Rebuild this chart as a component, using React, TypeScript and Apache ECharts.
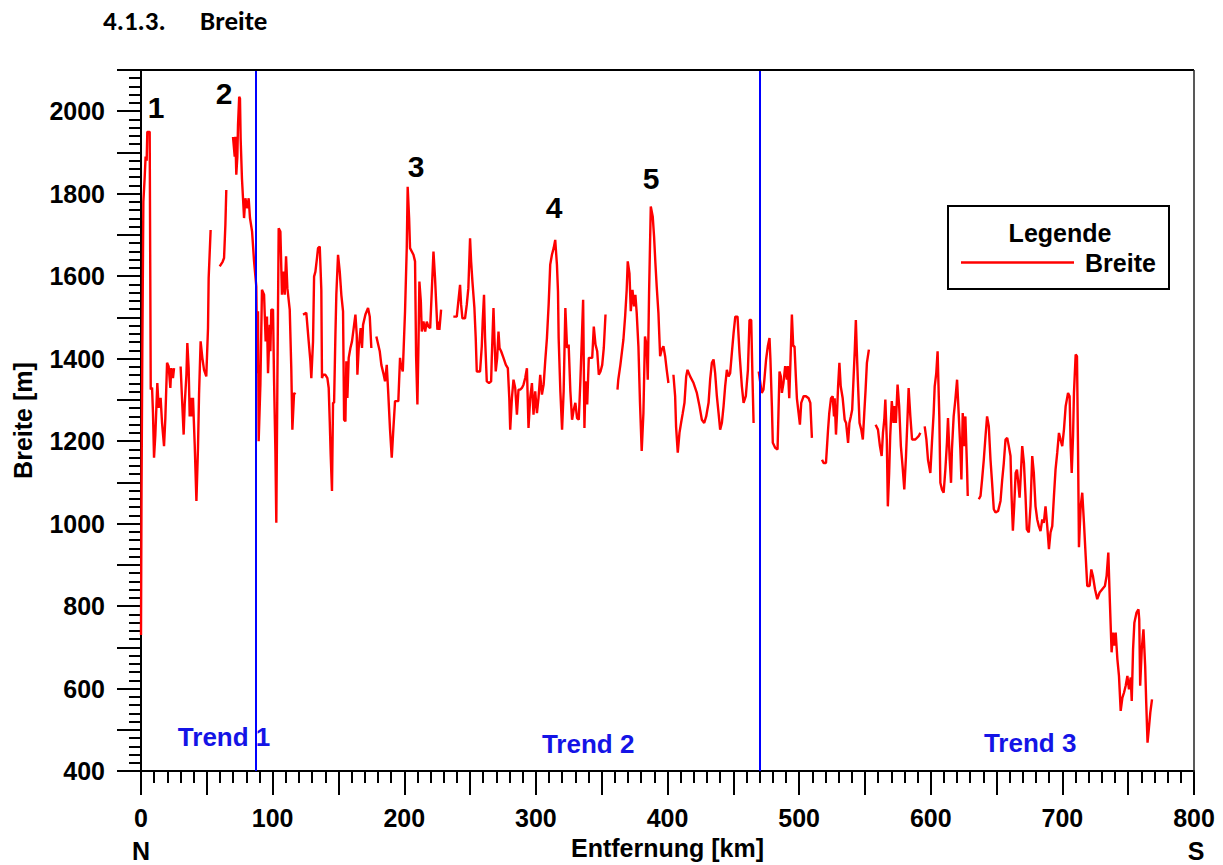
import { useEffect, useRef } from "react";
import * as echarts from "echarts";

// Profile of the valley width (Breite) along the river, north (0 km) to south.
// Each inner list is one continuous stretch of measurements; stretches are
// separated by gaps in the record.
const distanceKm: number[][] = [
  [0, 0.4, 1.0, 1.8, 2.8, 3.5, 4.3, 4.8, 6.0, 6.6,
   7.0, 7.4, 8.4, 9.1, 9.9, 10.9, 12.4, 13.4, 14.9, 16.0,
   17.5, 18.5, 19.8, 21.0, 22.3, 23.0, 24.3, 25.1],
  [30.1, 31.2, 32.4, 33.2, 34.5, 35.2, 36.2, 37.0, 37.7, 38.8,
   39.5, 40.8, 42.1, 43.3, 44.1, 45.3, 46.6, 47.9, 49.6, 50.9,
   51.4, 52.9],
  [59.8, 62.0, 63.1, 64.1, 64.8],
  [69.9, 71.2, 71.7, 72.4, 73.2, 73.7, 74.6, 75.2, 75.7, 76.7,
   78.3, 79.3, 80.8, 81.8, 82.8, 84.4, 85.9, 87.6, 88.4, 88.9,
   89.4, 90.7, 91.9, 93.5, 94.7, 95.7, 96.5, 97.8, 98.3, 99.0,
   100.3, 101.1, 102.1, 102.8, 103.6, 104.6, 105.9, 107.1, 108.4, 109.2,
   110.2, 111.2, 113.0, 114.2, 115.0, 116.3, 117.3],
  [123.1, 125.6, 127.4, 128.7, 129.4, 130.7, 131.5, 132.5, 133.7, 134.5,
   135.8, 137.0, 137.5, 138.3, 140.1, 141.6, 142.6, 143.4, 144.1, 145.1,
   145.9, 146.7, 147.7, 148.4, 149.7, 151.0, 152.2, 153.5, 154.3, 155.3,
   156.0, 156.8, 157.8, 159.1, 160.3, 161.9, 162.9, 163.9, 164.4, 165.4,
   166.9, 167.9, 168.7, 170.5, 172.5, 173.8, 175.0],
  [178.8, 180.5, 181.4, 182.6, 184.1, 185.4, 186.7, 187.9, 189.2, 190.5,
   191.7, 193.0, 195.5, 196.8, 197.4, 198.9, 200.6, 201.9, 202.6, 203.7,
   204.4, 207.0, 208.2, 209.0, 210.0, 210.8, 211.5, 212.6, 213.3, 214.6,
   215.9, 217.1, 218.4, 219.7, 220.9, 222.2, 223.4, 224.2, 225.2, 226.0,
   226.7, 228.0],
  [237.3, 239.9, 241.1, 242.4, 243.2, 244.2, 246.2, 247.5, 248.7, 250.0,
   250.8, 251.8, 253.3, 254.3, 255.1, 257.6, 258.9, 259.6, 260.6, 261.4,
   262.7, 264.4, 266.0, 266.5, 267.8, 268.5, 269.5, 270.6, 271.6, 272.4,
   273.6, 275.4, 277.2, 278.7, 279.8, 280.5, 281.8, 283.0, 284.3, 285.6,
   286.8, 288.1, 289.4, 290.6, 291.9, 293.2, 294.4, 295.7, 297.0, 298.2,
   299.5, 300.8, 302.0, 303.3, 304.6, 305.9, 307.1, 308.4, 309.7, 310.9,
   312.2, 313.5, 314.7, 316.0, 316.8, 317.3, 318.6, 319.9, 321.1, 322.4,
   323.7, 324.9, 326.2, 327.5, 328.8, 330.0, 331.3, 332.6, 333.8, 335.1,
   335.9, 336.9, 337.7, 339.0, 340.2, 341.5, 342.8, 344.0, 345.3, 346.6,
   347.8, 349.1, 350.4, 351.6, 352.9],
  [362.0, 362.6, 364.2, 366.5, 367.8, 369.0, 369.8, 371.1, 372.1, 373.4,
   374.6, 375.6, 376.6, 377.9, 379.1, 380.4, 381.7, 382.9, 384.2, 385.0,
   386.0, 387.3, 388.8, 389.8, 390.8, 391.8, 393.1, 394.4, 395.6, 396.9,
   398.2, 399.4, 400.7],
  [404.5, 405.8, 406.5, 407.8, 409.1, 410.3, 411.6, 412.9, 414.2, 415.2,
   417.2, 419.8, 422.3, 424.3, 426.1, 427.9, 429.4, 431.2, 432.4, 433.7,
   435.0, 436.2, 437.5, 438.8, 440.0, 441.3, 442.6, 443.8, 445.1, 446.4,
   447.6, 448.9, 450.2, 451.5, 453.2, 454.7, 456.5, 457.8, 459.5, 461.1,
   462.3, 463.6, 464.6, 465.4],
  [469.3, 471.6, 472.9, 473.6, 474.9, 476.2, 477.5, 478.2, 479.3, 480.0,
   481.8, 483.6, 484.3, 485.1, 486.1, 486.9, 488.1, 489.4, 490.7, 491.4,
   492.5, 493.5, 494.5, 495.5, 496.5, 497.5, 498.3, 499.6, 500.6, 501.6,
   503.4, 505.2, 507.2, 508.5, 509.7],
  [517.4, 518.6, 520.4, 521.2, 521.9, 522.9, 524.2, 525.5, 526.5, 527.0,
   528.0, 528.8, 529.6, 530.6, 531.6, 533.1, 534.6, 535.7, 537.2, 538.2,
   539.3, 540.3, 541.3, 542.3, 543.1, 543.8, 544.6, 545.9, 547.2, 548.4,
   549.5, 550.5, 551.5, 553.0],
  [558.1, 559.9, 561.4, 562.7, 563.7, 564.7, 565.5, 566.6, 567.4, 568.4,
   569.2, 570.4, 571.7, 572.5, 573.5, 574.8, 576.0, 577.3, 578.6, 579.9,
   581.2, 582.2, 583.2, 584.5, 585.8, 588.3, 590.8, 592.1],
  [595.4, 596.7, 597.9, 599.7, 600.9, 602.2, 603.0, 604.2, 605.2, 606.5,
   607.3, 608.5, 609.8, 611.1, 612.3, 613.1, 614.4, 615.4, 616.1, 617.4,
   618.7, 620.0, 621.2, 622.5, 623.3, 624.3, 625.3, 626.3, 627.6, 628.1],
  [636.5, 637.8, 639.0, 640.3, 641.6, 642.8, 644.1, 645.4, 646.6, 647.9,
   649.2, 651.2, 653.0, 654.3, 655.5, 656.8, 658.1, 659.3, 660.6, 661.4,
   662.4, 663.4, 664.5, 665.5, 666.5, 667.5, 668.5, 669.5, 670.8, 672.0,
   673.0, 674.5, 675.8, 677.1, 678.3, 679.6, 680.9, 682.1, 683.4, 684.7,
   685.9, 687.2, 688.5, 689.8, 691.0, 692.3, 693.6, 694.8, 696.1, 697.4,
   698.6, 699.9, 701.2, 702.5, 704.3, 705.5, 706.3, 707.1, 708.1, 708.8,
   710.1, 711.1, 711.9, 712.6, 713.9, 715.1, 716.4, 717.7, 718.9, 720.7,
   722.0, 723.2, 724.8, 726.5, 728.3, 730.3, 732.3, 733.6, 734.9, 736.1,
   737.4, 738.5, 739.5, 740.5, 741.8, 743.0, 744.3, 745.6, 746.8, 748.1,
   749.4, 750.6, 751.9, 752.7, 753.7, 754.7, 756.3, 757.8, 758.4, 759.1,
   760.3, 761.6, 762.9, 763.7, 764.7, 765.8, 766.8, 768.1],
];

const breiteM: number[][] = [
  [730, 1080, 1420, 1780, 1840, 1890, 1880, 1950, 1950, 1950,
   1640, 1325, 1330, 1268, 1160, 1216, 1341, 1281, 1305, 1244,
   1188, 1256, 1390, 1381, 1329, 1377, 1353, 1377],
  [1381, 1301, 1216, 1289, 1361, 1438, 1377, 1260, 1305, 1260,
   1305, 1192, 1055, 1184, 1313, 1442, 1402, 1373, 1357, 1474,
   1595, 1712],
  [1624, 1635, 1644, 1724, 1809],
  [1938, 1890, 1938, 1846, 1890, 1967, 2035, 2031, 1934, 1837,
   1741, 1789, 1765, 1789, 1741, 1708, 1636, 1575, 1365, 1515,
   1200, 1337, 1567, 1555, 1442, 1502, 1365, 1482, 1418, 1519,
   1519, 1345, 1176, 1002, 1337, 1716, 1708, 1555, 1611, 1555,
   1648, 1571, 1519, 1373, 1228, 1317, 1313],
  [1507, 1511, 1442, 1394, 1353, 1442, 1599, 1611, 1644, 1668,
   1672, 1567, 1353, 1361, 1361, 1353, 1329, 1248, 1168, 1079,
   1293, 1293, 1458, 1555, 1652, 1611, 1555, 1515, 1252, 1248,
   1394, 1305, 1402, 1426, 1442, 1482, 1507, 1458, 1361, 1426,
   1474, 1426, 1482, 1507, 1523, 1502, 1426],
  [1454, 1430, 1418, 1385, 1365, 1345, 1385, 1313, 1228, 1160,
   1228, 1297, 1297, 1402, 1385, 1369, 1515, 1668, 1817, 1741,
   1668, 1652, 1636, 1406, 1289, 1434, 1587, 1539, 1466, 1490,
   1466, 1490, 1478, 1474, 1563, 1660, 1595, 1539, 1470, 1490,
   1470, 1519],
  [1502, 1502, 1539, 1579, 1531, 1498, 1498, 1531, 1571, 1692,
   1636, 1587, 1523, 1450, 1369, 1369, 1430, 1490, 1555, 1450,
   1345, 1341, 1345, 1402, 1523, 1450, 1369, 1402, 1466, 1426,
   1418, 1402, 1385, 1377, 1305, 1228, 1305, 1349, 1329, 1264,
   1325, 1325, 1329, 1337, 1353, 1377, 1232, 1305, 1341, 1264,
   1321, 1268, 1305, 1361, 1313, 1337, 1394, 1450, 1531, 1628,
   1652, 1668, 1688, 1628, 1563, 1450, 1321, 1228, 1321, 1523,
   1426, 1434, 1321, 1252, 1277, 1293, 1256, 1252, 1345, 1466,
   1543, 1232, 1345, 1289, 1402, 1402, 1402, 1478, 1434, 1418,
   1361, 1369, 1385, 1426, 1507],
  [1325, 1349, 1385, 1446, 1502, 1567, 1636, 1607, 1515, 1567,
   1527, 1555, 1511, 1430, 1293, 1176, 1268, 1454, 1430, 1349,
   1559, 1769, 1744, 1696, 1632, 1575, 1511, 1406, 1422, 1430,
   1406, 1373, 1341],
  [1361, 1309, 1236, 1172, 1220, 1244, 1268, 1293, 1357, 1373,
   1357, 1341, 1317, 1285, 1252, 1244, 1260, 1293, 1349, 1390,
   1398, 1365, 1309, 1268, 1228, 1244, 1285, 1333, 1373, 1357,
   1365, 1414, 1462, 1502, 1502, 1414, 1333, 1293, 1309, 1373,
   1494, 1494, 1349, 1244],
  [1369, 1317, 1325, 1349, 1398, 1430, 1450, 1398, 1285, 1196,
   1184, 1180, 1268, 1369, 1357, 1317, 1341, 1382, 1349, 1382,
   1304, 1402, 1507, 1430, 1430, 1357, 1304, 1268, 1240, 1293,
   1309, 1309, 1304, 1293, 1208],
  [1155, 1147, 1147, 1188, 1224, 1268, 1304, 1309, 1260, 1304,
   1216, 1268, 1333, 1390, 1333, 1304, 1252, 1244, 1196, 1244,
   1260, 1276, 1349, 1422, 1494, 1422, 1349, 1244, 1228, 1204,
   1268, 1325, 1390, 1422],
  [1240, 1228, 1188, 1164, 1220, 1252, 1301, 1204, 1042, 1123,
   1212, 1297, 1244, 1285, 1244, 1337, 1285, 1188, 1139, 1083,
   1164, 1244, 1329, 1260, 1204, 1204, 1212, 1220],
  [1236, 1204, 1155, 1123, 1196, 1268, 1333, 1365, 1418, 1260,
   1099, 1083, 1075, 1131, 1196, 1256, 1155, 1099, 1180, 1260,
   1301, 1349, 1268, 1180, 1107, 1268, 1188, 1260, 1131, 1067],
  [1059, 1067, 1107, 1155, 1212, 1260, 1236, 1155, 1099, 1035,
   1027, 1031, 1055, 1107, 1147, 1204, 1208, 1188, 1164, 1067,
   983, 1043, 1123, 1131, 1099, 1063, 1123, 1188, 1147, 1067,
   986, 979, 1043, 1164, 1123, 1042, 1010, 994, 982, 1010,
   1002, 1042, 994, 938, 979, 994, 1067, 1131, 1172, 1220,
   1204, 1188, 1228, 1285, 1317, 1309, 1188, 1123, 1212, 1317,
   1410, 1406, 1180, 943, 1042, 1075, 1002, 922, 849, 849,
   889, 873, 841, 817, 833, 841, 849, 873, 930, 809,
   688, 736, 704, 736, 671, 631, 546, 578, 590, 607,
   631, 598, 627, 570, 695, 760, 784, 792, 768, 607,
   695, 744, 655, 566, 469, 506, 542, 574],
];

// Numbered width maxima
const peakNames = ["1", "2", "3", "4", "5"];
const peakKm = [11.4, 63.1, 209.0, 313.8, 387.5];
const peakM = [2010, 2044, 1865, 1766, 1836];

// Trend sections and their boundaries
const trendNames = ["Trend 1", "Trend 2", "Trend 3"];
const trendKm = [63.1, 339.7, 675.5];
const trendM = [482, 465, 468];
const trendBoundaryKm = [87, 470];

const ARIAL = '"Liberation Sans", Arial, Helvetica, sans-serif';
const HEADING = 'Carlito, Lato, "Open Sans", sans-serif';
const RED = "#ff0000";
const BLUE = "#0000ff";
const TREND_BLUE = "#1414e6";

const GRID = { left: 141, top: 70, right: 29, bottom: 93 };
const WIDTH = 1223;
const HEIGHT = 865;
const FONT_SIZE = 25;

function buildSeriesData(): (number | string)[][] {
  const out: (number | string)[][] = [];
  distanceKm.forEach((kms, i) => {
    const vals = breiteM[i];
    const n = Math.min(kms.length, vals.length);
    if (i > 0) {
      const prevKms = distanceKm[i - 1];
      out.push([(prevKms[prevKms.length - 1] + kms[0]) / 2, "-"]);
    }
    for (let j = 0; j < n; j++) out.push([kms[j], vals[j]]);
  });
  return out;
}

export default function App() {
  const ref = useRef<HTMLDivElement>(null);

  useEffect(() => {
    document.body.style.margin = "0";
    if (!ref.current) return;
    const chart = echarts.init(ref.current, null, { renderer: "svg" });

    const tickStyle = { color: "#000", width: 2 };
    const labelFont = {
      color: "#000",
      fontFamily: ARIAL,
      fontWeight: "bold" as const,
      fontSize: FONT_SIZE,
    };

    chart.setOption({
      animation: false,
      backgroundColor: "#fff",
      grid: { ...GRID, containLabel: false },
      legend: {
        data: [{ name: "Breite", icon: "rect" }],
        left: 961,
        top: 250,
        itemWidth: 113,
        itemHeight: 2.5,
        padding: 0,
        textStyle: { ...labelFont, padding: [0, 0, 0, 6] },
      },
      xAxis: {
        type: "value",
        min: 0,
        max: 800,
        interval: 50,
        axisLine: { show: true, lineStyle: tickStyle },
        axisTick: { show: true, inside: false, length: 24, lineStyle: tickStyle },
        minorTick: { show: true, splitNumber: 5, length: 12, lineStyle: tickStyle },
        splitLine: { show: false },
        minorSplitLine: { show: false },
        axisLabel: {
          ...labelFont,
          margin: 34,
          showMaxLabel: true,
          showMinLabel: true,
          formatter: (v: number) => (v % 100 === 0 ? String(v) : ""),
        },
        name: "Entfernung [km]",
        nameLocation: "middle",
        nameGap: 63,
        nameTextStyle: { ...labelFont },
      },
      yAxis: {
        type: "value",
        min: 400,
        max: 2100,
        interval: 100,
        axisLine: { show: true, lineStyle: tickStyle },
        axisTick: { show: true, inside: false, length: 24, lineStyle: tickStyle },
        minorTick: { show: true, splitNumber: 5, length: 12, lineStyle: tickStyle },
        splitLine: { show: false },
        minorSplitLine: { show: false },
        axisLabel: {
          ...labelFont,
          margin: 36,
          formatter: (v: number) => (v % 200 === 0 && v <= 2000 ? String(v) : ""),
        },
        name: "Breite [m]",
        nameLocation: "middle",
        nameGap: 106,
        nameRotate: 90,
        nameTextStyle: { ...labelFont },
      },
      series: [
        {
          name: "Breite",
          type: "line",
          symbol: "none",
          connectNulls: false,
          color: RED,
          lineStyle: { color: RED, width: 2.4 },
          data: buildSeriesData(),
          markLine: {
            silent: true,
            symbol: ["none", "none"],
            label: { show: false },
            lineStyle: { color: BLUE, width: 2, type: "solid" },
            data: trendBoundaryKm.map((km) => ({ xAxis: km })),
          },
          z: 3,
        },
      ],
    });

    const px = (km: number, m: number) =>
      chart.convertToPixel({ xAxisIndex: 0, yAxisIndex: 0 }, [km, m]) as number[];

    const right = WIDTH - GRID.right;
    const bottom = HEIGHT - GRID.bottom;

    const graphic: any[] = [
      // frame: top and right edges of the plot area
      {
        type: "line",
        shape: { x1: GRID.left, y1: GRID.top, x2: right, y2: GRID.top },
        style: { stroke: "#000", lineWidth: 2 },
        z: 5,
      },
      {
        type: "line",
        shape: { x1: right, y1: GRID.top, x2: right, y2: bottom },
        style: { stroke: "#222", lineWidth: 1.5 },
        z: 5,
      },
      // section heading
      {
        type: "text",
        left: 103,
        top: 7,
        style: { text: "4.1.3.", fill: "#000", font: `bold 27px ${HEADING}` },
      },
      {
        type: "text",
        left: 200,
        top: 7,
        style: { text: "Breite", fill: "#000", font: `bold 27px ${HEADING}` },
      },
      // compass directions under the distance axis
      {
        type: "text",
        x: GRID.left,
        y: 851,
        style: {
          text: "N",
          fill: "#000",
          font: `bold ${FONT_SIZE}px ${ARIAL}`,
          align: "center",
          verticalAlign: "middle",
        },
      },
      {
        type: "text",
        x: right + 2,
        y: 851,
        style: {
          text: "S",
          fill: "#000",
          font: `bold ${FONT_SIZE}px ${ARIAL}`,
          align: "center",
          verticalAlign: "middle",
        },
      },
      // legend frame and heading
      {
        type: "rect",
        shape: { x: 948, y: 206, width: 221, height: 83 },
        style: { fill: "#fff", stroke: "#000", lineWidth: 2 },
        z: 1,
      },
      {
        type: "text",
        x: 1060,
        y: 233,
        style: {
          text: "Legende",
          fill: "#000",
          font: `bold ${FONT_SIZE}px ${ARIAL}`,
          align: "center",
          verticalAlign: "middle",
        },
        z: 6,
      },
    ];

    peakNames.forEach((name, i) => {
      const [x, y] = px(peakKm[i], peakM[i]);
      graphic.push({
        type: "text",
        x,
        y,
        style: {
          text: name,
          fill: "#000",
          font: `bold 30px ${ARIAL}`,
          align: "center",
          verticalAlign: "middle",
        },
        z: 6,
      });
    });

    trendNames.forEach((name, i) => {
      const [x, y] = px(trendKm[i], trendM[i]);
      graphic.push({
        type: "text",
        x,
        y,
        style: {
          text: name,
          fill: TREND_BLUE,
          font: `bold 26px ${ARIAL}`,
          align: "center",
          verticalAlign: "middle",
        },
        z: 2,
      });
    });

    chart.setOption({ graphic });

    return () => chart.dispose();
  }, []);

  return <div ref={ref} style={{ width: WIDTH, height: HEIGHT }} />;
}
